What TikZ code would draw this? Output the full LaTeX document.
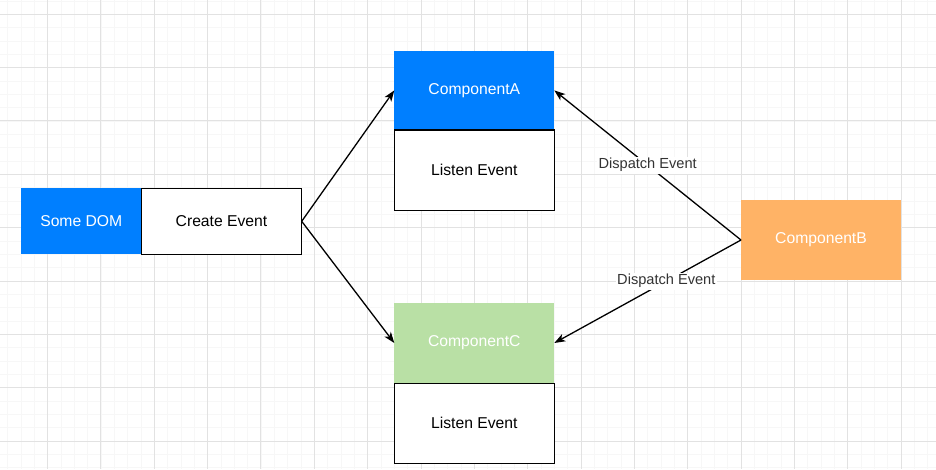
\documentclass[tikz,border=0pt]{standalone}
\usepackage{fontspec}
\setmainfont{Liberation Sans}
\usetikzlibrary{arrows.meta}
\definecolor{domblue}{RGB}{0,127,255}
\definecolor{cgreen}{RGB}{185,224,165}
\definecolor{borange}{RGB}{255,179,102}
\definecolor{gridmaj}{RGB}{226,226,226}
\definecolor{gridmin}{RGB}{247,247,247}
\definecolor{labeltext}{RGB}{51,51,51}
\tikzset{
  box/.style={rectangle, minimum width=160pt, inner sep=0pt, outer sep=0pt,
    font=\fontsize{15.7}{18}\selectfont},
  plainbox/.style={box, draw=black, line width=1.3pt, fill=white, text=black},
  headbox/.style={box, text=white},
  conn/.style={line width=1.3pt, -{Stealth[length=11pt,width=8pt,inset=3pt]}},
  lbl/.style={fill=white, inner sep=1.5pt, text=labeltext, font=\fontsize{14.6}{17}\selectfont},
  minorline/.style={draw=gridmin, line width=0.7pt},
  majorline/.style={draw=gridmaj, line width=1pt}
}
\begin{document}
\begin{tikzpicture}[x=1pt,y=-1pt]
  \useasboundingbox (0,0) rectangle (936,469);
  \fill[white] (0,0) rectangle (936,469);
  % grid
  \foreach \i in {1,...,71} { \draw[minorline] ({-5.67+13.333*\i},0) -- ({-5.67+13.333*\i},469); }
  \foreach \j in {0,...,35} { \draw[minorline] (0,{1.0+13.333*\j}) -- (936,{1.0+13.333*\j}); }
  \foreach \i in {1,...,17} { \draw[majorline] ({-5.67+53.333*\i},0) -- ({-5.67+53.333*\i},469); }
  \foreach \j in {0,...,8} { \draw[majorline] (0,{14.33+53.333*\j}) -- (936,{14.33+53.333*\j}); }

  % nodes
  \node[headbox, fill=domblue, minimum width=120pt, minimum height=66pt] (dom) at (81.3,221.3) {Some DOM};
  \node[plainbox, minimum width=160.4pt, minimum height=66pt] (ce) at (221.5,221.3) {Create Event};

  \node[headbox, fill=domblue, minimum height=79.3pt] (ca) at (474.3,90.4) {ComponentA};
  \node[plainbox, minimum height=80.3pt] (la) at (474.3,170.2) {Listen Event};

  \node[headbox, fill=cgreen, minimum height=80.6pt] (cc) at (474.3,343) {ComponentC};
  \node[plainbox, minimum height=80pt] (lc) at (474.3,423.3) {Listen Event};

  \node[headbox, fill=borange, minimum height=80pt] (cb) at (821,240) {ComponentB};

  % connectors
  \draw[conn] (ce.east) -- (ca.west);
  \draw[conn] (ce.east) -- (cc.west);
  \draw[conn] (cb.west) -- node[lbl, pos=0.5] {Dispatch Event} (ca.east);
  \draw[conn] (cb.west) -- node[lbl, pos=0.4] {Dispatch Event} (cc.east);
\end{tikzpicture}
\end{document}
